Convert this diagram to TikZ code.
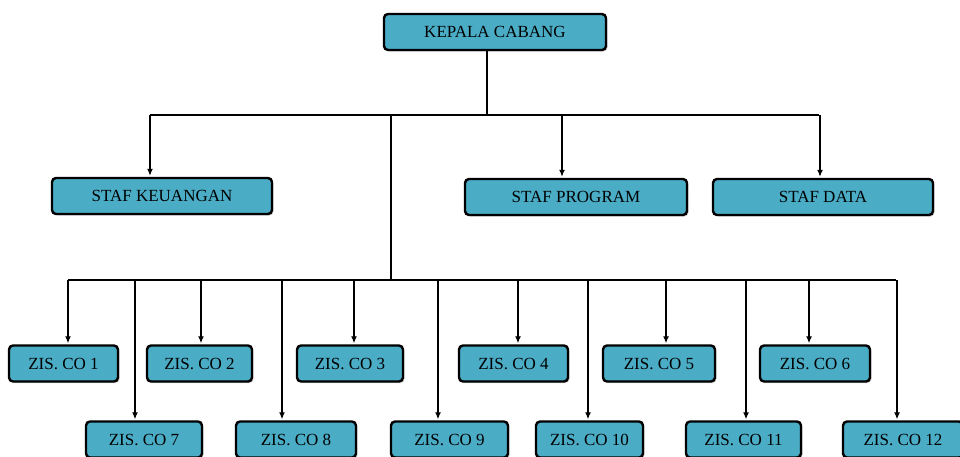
\documentclass[tikz,border=0pt]{standalone}
\usepackage{fontspec}
\setmainfont{Liberation Serif}
\usetikzlibrary{arrows.meta,shadows}
\definecolor{boxblue}{HTML}{4BACC6}
\tikzset{
  unit/.style={draw=black, line width=2.4pt, fill=boxblue, rounded corners=4pt,
    minimum height=36pt, inner sep=0pt, font=\fontsize{17}{20}\selectfont,
    drop shadow={shadow xshift=1.5pt, shadow yshift=-1.5pt, fill=gray!60, opacity=0.6}},
  bus/.style={-, line width=1.3pt}
}

\begin{document}
\begin{tikzpicture}[x=1pt,y=-1pt,->,>={Latex[length=7pt,width=6pt]},shorten >=1pt,line width=1.3pt]
\useasboundingbox (0,0) rectangle (960,456);

\node[unit,minimum width=222pt] (kc) at (495,32)  {KEPALA CABANG};
\node[unit,minimum width=220pt] (sk) at (162,196) {STAF KEUANGAN};
\node[unit,minimum width=222pt] (sp) at (576,197) {STAF PROGRAM};
\node[unit,minimum width=220pt] (sd) at (823,197) {STAF DATA};

\node[unit,minimum width=109pt] (co1)  at (63.5,363.5)  {ZIS. CO 1};
\node[unit,minimum width=105pt] (co2)  at (199.5,363.5) {ZIS. CO 2};
\node[unit,minimum width=106pt] (co3)  at (350,363.5)   {ZIS. CO 3};
\node[unit,minimum width=109pt] (co4)  at (513.5,363.5) {ZIS. CO 4};
\node[unit,minimum width=112pt] (co5)  at (659,363.5)   {ZIS. CO 5};
\node[unit,minimum width=110pt] (co6)  at (815,363.5)   {ZIS. CO 6};
\node[unit,minimum width=116pt] (co7)  at (144,439.5)   {ZIS. CO 7};
\node[unit,minimum width=120pt] (co8)  at (296,439.5)   {ZIS. CO 8};
\node[unit,minimum width=117pt] (co9)  at (449.5,439.5) {ZIS. CO 9};
\node[unit,minimum width=107pt] (co10) at (589.5,439.5) {ZIS. CO 10};
\node[unit,minimum width=115pt] (co11) at (743.5,439.5) {ZIS. CO 11};
\node[unit,minimum width=120pt] (co12) at (903,439.5)   {ZIS. CO 12};

% top bus
\coordinate (j0) at (487,115);
\coordinate (a1) at (150,115);
\coordinate (a2) at (391,115);
\coordinate (a3) at (562,115);
\coordinate (a4) at (820,115);
\draw[bus] (kc.south -| j0) -- (j0);
\draw[bus] (a1) -- (a4);
\draw (a1) -- (sk.north -| a1);
\draw (a3) -- (sp.north -| a3);
\draw (a4) -- (sd.north -| a4);

% lower bus
\coordinate (b0) at (391,280);
\draw[bus] (a2) -- (b0);
\foreach \x/\n in {68/1,201/2,354/3,518/4,666/5,809/6,135/7,282/8,438/9,588/10,746/11,897/12}
  \coordinate (b\n) at (\x,280);
\draw[bus] (b1) -- (b12);
\foreach \n in {1,...,12}
  \draw (b\n) -- (co\n.north -| b\n);

\end{tikzpicture}
\end{document}
